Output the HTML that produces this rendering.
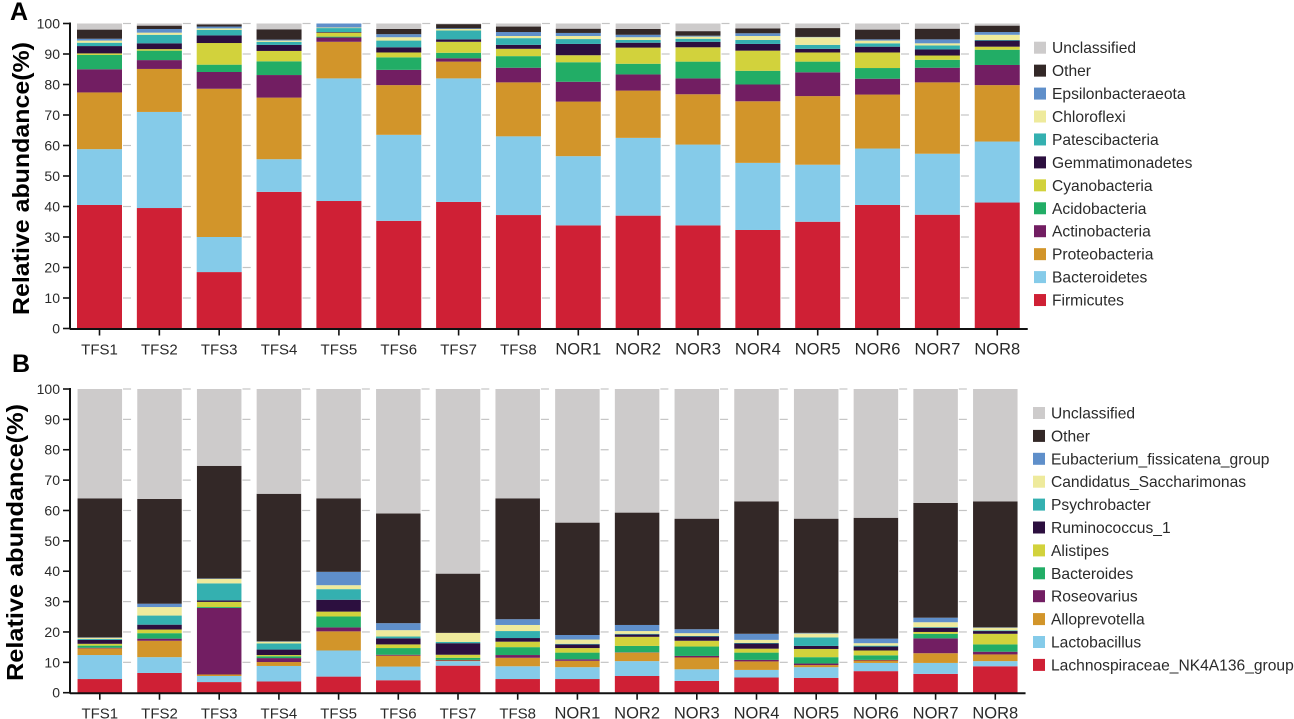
<!DOCTYPE html>
<html lang="en">
<head>
<meta charset="utf-8">
<title>Relative abundance stacked bars</title>
<style>
html,body{margin:0;padding:0;background:#fff;width:1294px;height:719px;overflow:hidden}
svg{display:block}
text{font-family:"Liberation Sans",sans-serif;fill:#2a2a2a}
</style>
</head>
<body>
<svg id="chart" width="1294" height="719" viewBox="0 0 1294 719" xmlns="http://www.w3.org/2000/svg">
  <text x="10" y="20" font-size="25" font-weight="bold" style="fill:#000">A</text>
  <text x="12" y="372" font-size="25" font-weight="bold" style="fill:#000">B</text>
  <text transform="translate(29,315) rotate(-90)" font-size="23" font-weight="bold" textLength="273" lengthAdjust="spacingAndGlyphs" style="fill:#000">Relative abundance(%)</text>
  <text transform="translate(23,681) rotate(-90)" font-size="23" font-weight="bold" textLength="277" lengthAdjust="spacingAndGlyphs" style="fill:#000">Relative abundance(%)</text>
</svg>
<script>
const categories = ["TFS1","TFS2","TFS3","TFS4","TFS5","TFS6","TFS7","TFS8","NOR1","NOR2","NOR3","NOR4","NOR5","NOR6","NOR7","NOR8"];
const yTicks = [0,10,20,30,40,50,60,70,80,90,100];
const yMax = 100;

// Panel A: phylum level, bottom of stack first
const phylaNames = ["Firmicutes","Bacteroidetes","Proteobacteria","Actinobacteria","Acidobacteria","Cyanobacteria","Gemmatimonadetes","Patescibacteria","Chloroflexi","Epsilonbacteraeota","Other","Unclassified"];
const firmicutes = [40.5,39.5,18.5,44.8,41.8,35.3,41.5,37.2,33.8,37,33.8,32.3,35,40.5,37.3,41.3];
const bacteroidetes = [18.3,31.5,11.5,10.7,40.2,28.2,40.5,25.8,22.7,25.5,26.5,22,18.7,18.5,20,20];
const proteobacteria = [18.6,14.1,48.6,20.2,12,16.3,5.5,17.7,17.9,15.5,16.5,20.2,22.5,17.7,23.4,18.5];
const actinobacteria = [7.6,2.9,5.5,7.4,1.4,5,1.1,4.8,6.5,5.3,5.2,5.5,7.8,5.2,4.8,6.6];
const acidobacteria = [4.7,3.1,2.4,4.5,0.3,4.1,1.8,3.8,6.4,3.5,5.5,4.5,3.5,3.5,2.6,5];
const cyanobacteria = [0.5,0.5,7.1,3.4,1.3,1.6,3.6,2.4,2.3,5.3,4.7,6.6,3,5.1,1.4,1];
const gemmatimonadetes = [2.4,1.9,2.5,2,0.2,1.7,0.8,1.3,3.7,1.6,1.8,2.2,1.2,1.9,2,2];
const patescibacteria = [1.1,2.8,1.8,1,1.3,2.2,2.9,2.2,1.6,0.9,1,1.3,1.3,1.1,1.3,0.2];
const chloroflexi = [0.7,0.7,0.5,0.4,0.2,1.1,0.5,0.7,1,0.9,0.7,1.3,2.5,0.9,0.7,1.7];
const epsilonbacteraeota = [0.6,1.2,0.6,0.3,1.3,1,0.2,1.3,1,0.8,0.3,0.9,0.1,0.4,1.3,0.9];
const otherPhyla = [3,1.1,0.7,3.4,0,1.7,1.4,1.8,1.4,1.9,1.5,1.6,2.9,3.2,3.5,2.1];
const unclassifiedPhyla = [2,0.7,0.3,1.9,0,1.8,0.2,1,1.7,1.8,2.5,1.6,1.5,2,1.7,0.7];

// Panel B: genus level, bottom of stack first
const generaNames = ["Lachnospiraceae_NK4A136_group","Lactobacillus","Alloprevotella","Roseovarius","Bacteroides","Alistipes","Ruminococcus_1","Psychrobacter","Candidatus_Saccharimonas","Eubacterium_fissicatena_group","Other","Unclassified"];
const lachnospiraceae = [4.5,6.5,3.5,3.7,5.3,4.1,8.9,4.5,4.5,5.5,3.9,5,4.9,7.1,6.2,8.7];
const lactobacillus = [7.9,5.2,2,5.1,8.6,4.5,1.5,4.2,3.9,4.9,3.8,2.5,3.5,2.7,3.6,1.7];
const alloprevotella = [2.2,5.4,0.5,1.3,6.3,3.6,0.2,2.8,2.1,2.8,3.9,2.8,0.7,0.8,3.2,2.2];
const roseovarius = [0.2,0.7,21.9,1.3,1.3,0.3,0.2,0.9,0.5,0.1,0.5,0.5,0.5,0.2,4.9,0.9];
const bacteroides = [0.7,1.8,0.3,0.6,3.6,2.2,0.7,2.6,2.2,2.1,3.1,2.4,2.1,1.5,1.5,2.4];
const alistipes = [0.6,1.2,1.7,0.4,1.6,1.2,1,1.8,1.5,3,1.9,1.3,2.7,1.6,0.6,3.5];
const ruminococcus = [1.3,1.6,0.5,1.8,3.9,2,3.8,1.2,1.2,0.8,1.4,1.7,1,1.3,1.4,0.9];
const psychrobacter = [0.3,3,5.6,2,3.5,0.6,0.4,2.3,0.2,0.2,0.2,0.2,2.8,0.3,0.2,0.2];
const saccharimonas = [0.4,2.8,1.5,0.6,1.3,2.1,3,2,1.4,0.9,0.9,1,1.3,0.8,1.6,0.9];
const eubacterium = [0.1,1.1,0.1,0.1,4.4,2.3,0,1.9,1.5,2,1.3,2,0.2,1.5,1.5,0.1];
const otherGenera = [45.8,34.5,37.1,48.6,24.2,36.1,19.5,39.8,37,37,36.4,43.6,37.6,39.8,37.8,41.5];
const unclassifiedGenera = [36,36.2,25.3,34.5,36,41,60.8,36,44,40.7,42.7,37,42.7,42.4,37.5,37];

const seriesColors = ["#cf2035","#85cbe9","#d2952a","#721e62","#22ad66","#d2d23c","#2c0f3f","#34b0b0","#eeea9c","#5f8fca","#332827","#cdcbcb"];

const phylaSeries = [firmicutes,bacteroidetes,proteobacteria,actinobacteria,acidobacteria,cyanobacteria,gemmatimonadetes,patescibacteria,chloroflexi,epsilonbacteraeota,otherPhyla,unclassifiedPhyla];
const generaSeries = [lachnospiraceae,lactobacillus,alloprevotella,roseovarius,bacteroides,alistipes,ruminococcus,psychrobacter,saccharimonas,eubacterium,otherGenera,unclassifiedGenera];

const NS = "http://www.w3.org/2000/svg";
const svg = document.getElementById("chart");

function slug(s){
  return s.toLowerCase().replace(/[^a-z0-9]+/g,"-").replace(/^-|-$/g,"");
}

function add(parent, tag, attrs, text){
  const el = document.createElementNS(NS, tag);
  for (const k in attrs) el.setAttribute(k, attrs[k]);
  if (text !== undefined) el.textContent = text;
  parent.appendChild(el);
  return el;
}

function drawPanel(prefix, names, series, g){
  const yScale = v => g.y0 - (v / yMax) * (g.y0 - g.y100);
  const xScale = i => g.x0 + i * g.step;

  const group = add(svg, "g", {});
  
  

  // dashed grid remnants visible in the gaps between bars
  yTicks.forEach(t => {
    if (t === 0) return;
    categories.forEach((c, i) => {
      if (i === categories.length - 1) return;
      const left = xScale(i) + g.barWidth / 2 + 1;
      const dash = add(group, "rect", {x:left, y:yScale(t) - 0.6, width:8, height:1.2, fill:"#c4c4c4"});
      
      
    });
  });

  // stacked bars
  categories.forEach((c, i) => {
    let cum = 0;
    series.forEach((vals, s) => {
      const v = vals[i];
      const top = yScale(cum + v);
      const bottom = yScale(cum);
      cum += v;
      const seg = add(group, "rect", {x:xScale(i) - g.barWidth / 2, y:top, width:g.barWidth, height:Math.max(0, bottom - top), fill:seriesColors[s]});
      
      
    });
  });

  // y axis
  const yAxis = add(group, "line", {x1:g.axisX, x2:g.axisX, y1:yScale(yMax) - 1, y2:g.y0 + 1, stroke:"#111", "stroke-width":2});
  
  
  yTicks.forEach(t => {
    const tick = add(group, "line", {x1:g.axisX - 7, x2:g.axisX, y1:yScale(t), y2:yScale(t), stroke:"#111", "stroke-width":1.6});
    
    
    const lab = add(group, "text", {x:g.axisX - 10, y:yScale(t) + 5, "text-anchor":"end", "font-size":14}, String(t));
    
    
  });

  // x axis
  const xAxis = add(group, "line", {x1:g.axisX, x2:xScale(categories.length - 1) + g.barWidth / 2 + 8, y1:g.y0 + 0.5, y2:g.y0 + 0.5, stroke:"#111", "stroke-width":2});
  
  
  categories.forEach((c, i) => {
    const tick = add(group, "line", {x1:xScale(i), x2:xScale(i), y1:g.y0, y2:g.y0 + 7, stroke:"#111", "stroke-width":1.6});
    
    
    const lab = add(group, "text", {x:xScale(i), y:g.y0 + 26, "text-anchor":"middle", "font-size":c.startsWith("NOR") ? 16.5 : 15}, c);
    
    
  });

  // legend, top entry is the last series
  const legend = add(svg, "g", {});
  
  
  const count = names.length;
  for (let n = 0; n < count; n++) {
    const s = count - 1 - n;
    const cy = g.legendY + n * g.legendStep;
    const sw = add(legend, "rect", {x:g.legendX, y:cy - 6, width:12, height:12, fill:seriesColors[s]});
    
    
    const tx = add(legend, "text", {x:g.legendX + 18, y:cy + 5.5, "font-size":15.6}, names[s]);
    
    
  }
}

drawPanel("panel-a", phylaNames, phylaSeries, {x0:99.5, step:59.85, barWidth:45, y0:328.5, y100:23.5, axisX:70, legendX:1034, legendY:47.7, legendStep:22.94});
drawPanel("panel-b", generaNames, generaSeries, {x0:99.8, step:59.7, barWidth:44.5, y0:692.7, y100:389, axisX:70, legendX:1033, legendY:413, legendStep:22.9});
</script>
</body>
</html>
